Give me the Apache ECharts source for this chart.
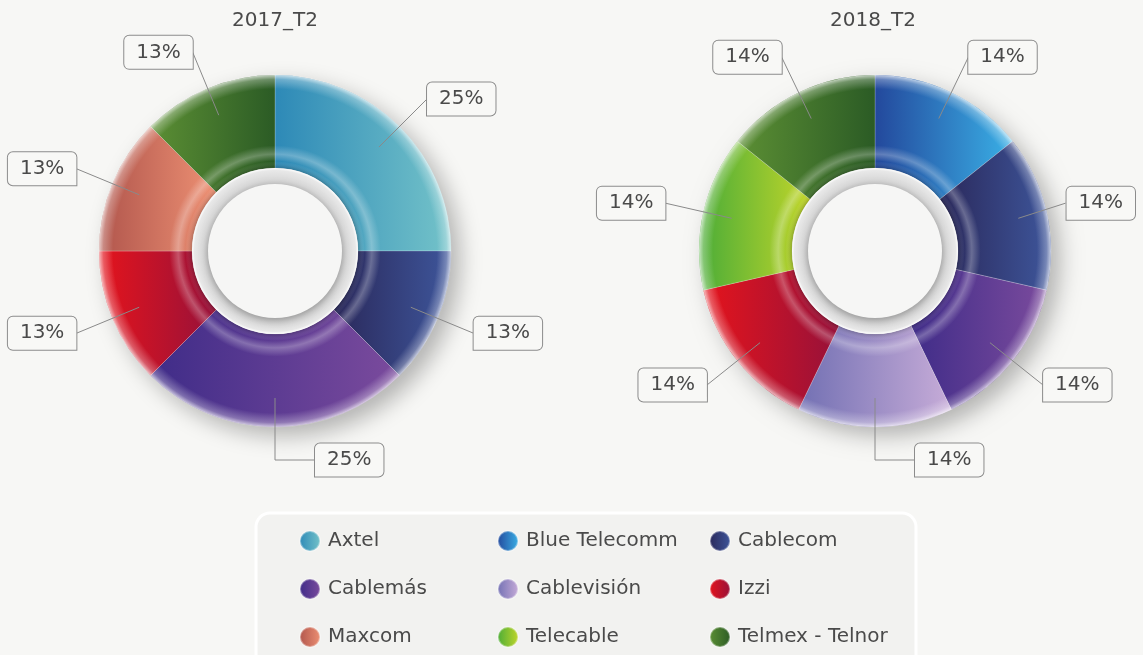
<!DOCTYPE html>
<html>
<head>
<meta charset="utf-8">
<script src="https://cdn.jsdelivr.net/npm/echarts@6/dist/echarts.min.js"></script>
<style>
  html, body { margin: 0; padding: 0; background: #f7f7f5; }
  #chart { width: 1143px; height: 655px; }
</style>
</head>
<body>
<div id="chart"></div>
<script>
const titles = ["2017_T2", "2018_T2"]
const categories2017 = ["Axtel", "Cablecom", "Cablemás", "Izzi", "Maxcom", "Telmex - Telnor"]
const values2017 = [2, 1, 2, 1, 1, 1]
const categories2018 = ["Blue Telecomm", "Cablecom", "Cablemás", "Cablevisión", "Izzi", "Telecable", "Telmex - Telnor"]
const values2018 = [1, 1, 1, 1, 1, 1, 1]
const legendColumns = [
  ["Axtel", "Cablemás", "Maxcom"],
  ["Blue Telecomm", "Cablevisión", "Telecable"],
  ["Cablecom", "Izzi", "Telmex - Telnor"]
]

// left -> right gradient stops for each company
const colors = {
  "Axtel": ["#2d89b7", "#74c3c9"],
  "Blue Telecomm": ["#23489c", "#3ab0e6"],
  "Cablecom": ["#2a285a", "#3e569b"],
  "Cablemás": ["#3f2c88", "#7b4b9d"],
  "Cablevisión": ["#7270b3", "#c7acd8"],
  "Izzi": ["#e5141c", "#96113a"],
  "Maxcom": ["#b0554c", "#ee9174"],
  "Telecable": ["#4aac38", "#c2d62a"],
  "Telmex - Telnor": ["#5c8f34", "#2b5b25"]
}

const FONT = "'DejaVu Sans', sans-serif"
const TEXT = "#4a4a4a"
const R_OUT = 176, R_IN = 83, R_LINE = 147
const RIGHT_LIMIT = 1137

const grad = name => new echarts.graphic.LinearGradient(0, 0, 1, 0, [
  { offset: 0, color: colors[name][0] },
  { offset: 1, color: colors[name][1] }
])

const buildPie = (center, names, values) => {
  const total = values.reduce((a, b) => a + b, 0)
  let cum = 0
  const labelData = names.map((name, i) => {
    const mid = (90 - 360 * (cum + values[i] / 2) / total) * Math.PI / 180
    cum += values[i]
    const right = Math.cos(mid) >= -1e-9
    const bottom = Math.abs(Math.cos(mid)) < 0.1
    return {
      name, value: values[i],
      label: { borderRadius: right ? [5, 5, 5, 0] : [5, 5, 0, 5] },
      labelLine: bottom ? { length: 62, length2: 40 } : undefined
    }
  })
  return [
    {
      // shadow base
      type: "pie", center, radius: [R_IN, R_OUT], silent: true,
      label: { show: false }, labelLine: { show: false },
      itemStyle: {
        color: "#d9d9d9", shadowBlur: 22, shadowOffsetX: 9, shadowOffsetY: 9,
        shadowColor: "rgba(0,0,0,0.28)"
      },
      data: [{ name: "_base", value: 1 }]
    },
    {
      type: "pie", center, radius: [R_IN, R_OUT], startAngle: 90,
      avoidLabelOverlap: false, emphasis: { disabled: true },
      label: { show: false }, labelLine: { show: false },
      itemStyle: { borderColor: "rgba(255,255,255,0.35)", borderWidth: 0.6 },
      data: names.map((name, i) => ({ name, value: values[i], itemStyle: { color: grad(name) } }))
    },
    {
      // bevel highlight on the ring
      type: "pie", center, radius: [R_IN, R_OUT], silent: true,
      label: { show: false }, labelLine: { show: false },
      itemStyle: {
        color: new echarts.graphic.RadialGradient(0.5, 0.5, 0.5, [
          { offset: 0.47, color: "rgba(0,0,0,0.22)" },
          { offset: 0.51, color: "rgba(255,255,255,0)" },
          { offset: 0.55, color: "rgba(255,255,255,0.28)" },
          { offset: 0.6, color: "rgba(255,255,255,0)" },
          { offset: 0.92, color: "rgba(255,255,255,0)" },
          { offset: 0.975, color: "rgba(255,255,255,0.3)" },
          { offset: 1, color: "rgba(255,255,255,0.7)" }
        ])
      },
      data: [{ name: "_bevel", value: 1 }]
    },
    {
      type: "pie", center, radius: [0, R_IN], silent: true,
      label: { show: false }, labelLine: { show: false },
      itemStyle: {
        color: new echarts.graphic.RadialGradient(0.5, 0.5, 0.5, [
          { offset: 0.78, color: "#c4c4c4" },
          { offset: 0.86, color: "#d9d9d9" },
          { offset: 0.97, color: "#e8e8e8" },
          { offset: 1, color: "#ffffff" }
        ])
      },
      data: [{ name: "_ring", value: 1 }]
    },
    {
      type: "pie", center, radius: [0, 67], silent: true,
      label: { show: false }, labelLine: { show: false },
      itemStyle: {
        color: "#f6f6f5", shadowBlur: 8, shadowOffsetY: 3, shadowColor: "rgba(0,0,0,0.25)"
      },
      data: [{ name: "_disc", value: 1 }]
    },
    {
      // invisible pie carrying the labels, so the leader lines start inside the ring
      type: "pie", center, radius: [0, R_LINE], startAngle: 90, silent: true,
      avoidLabelOverlap: false, z: 5,
      itemStyle: { color: "rgba(0,0,0,0)" },
      label: {
        show: true, position: "outside", distanceToLabelLine: 0,
        formatter: p => Math.round(p.percent) + "%",
        fontFamily: FONT, fontSize: 20, color: TEXT,
        backgroundColor: "#f8f8f6", borderColor: "#8c8c8c", borderWidth: 1,
        padding: [7, 12, 6, 12]
      },
      labelLine: { show: true, length: 68, length2: 0, lineStyle: { color: "#8a8a8a", width: 1 } },
      // keep boxes inside the page
      labelLayout: p => {
        const r = p.labelRect
        return r.x + r.width > RIGHT_LIMIT ? { x: RIGHT_LIMIT - r.width } : {}
      },
      data: labelData
    }
  ]
}

const legendLefts = [299, 497, 709]
const chart = echarts.init(document.getElementById("chart"))
chart.setOption({
  backgroundColor: "#f7f7f5",
  animation: false,
  graphic: [
    {
      type: "rect", z: 0,
      shape: { x: 256, y: 513, width: 660, height: 170, r: 14 },
      style: { fill: "#f2f2f0", stroke: "#ffffff", lineWidth: 3 }
    },
    {
      type: "text", x: 275, y: 21,
      style: { text: titles[0], fontFamily: FONT, fontSize: 20, fill: TEXT, align: "center", verticalAlign: "middle" }
    },
    {
      type: "text", x: 873, y: 21,
      style: { text: titles[1], fontFamily: FONT, fontSize: 20, fill: TEXT, align: "center", verticalAlign: "middle" }
    }
  ],
  legend: legendColumns.map((col, i) => ({
    orient: "vertical", left: legendLefts[i], top: 530, padding: 0,
    data: col, itemWidth: 20, itemHeight: 20, itemGap: 26,
    icon: "circle",
    selectedMode: false,
    textStyle: { fontFamily: FONT, fontSize: 20, color: TEXT, padding: [0, 0, 0, 3] }
  })),
  series: [
    ...buildPie([275, 251], categories2017, values2017),
    ...buildPie([875, 251], categories2018, values2018)
  ]
})
</script>
</body>
</html>
